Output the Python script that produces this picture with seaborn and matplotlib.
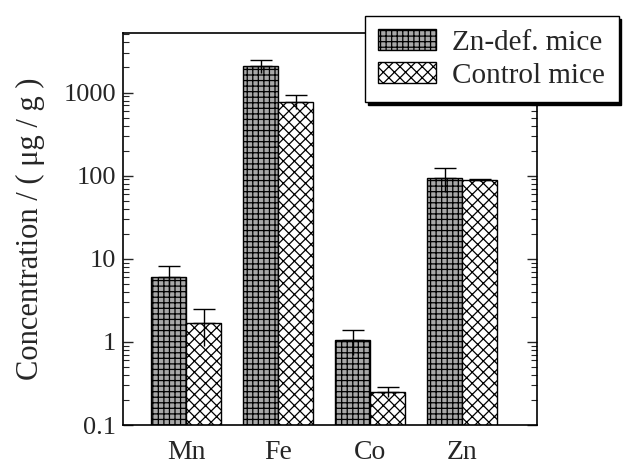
import numpy as np
import pandas as pd
import matplotlib
matplotlib.use("Agg")
import matplotlib.pyplot as plt
import seaborn as sns
from matplotlib.ticker import LogLocator, FixedLocator, FixedFormatter, NullFormatter
from matplotlib.patches import Patch

elements = ["Mn", "Fe", "Co", "Zn"]
groups = ["Zn-def. mice", "Control mice"]
zn_def = [6.0, 2070.0, 1.05, 94.0]
zn_def_err = [2.1, 360.0, 0.35, 30.0]
control = [1.68, 775.0, 0.25, 88.0]
control_err = [0.8, 150.0, 0.034, 2.5]

sns.set_theme(style="white")
plt.rcParams["font.family"] = ["Liberation Serif", "DejaVu Serif"]
plt.rcParams["hatch.linewidth"] = 0.9

df = pd.DataFrame({
    "Element": elements * 2,
    "Group": [groups[0]] * 4 + [groups[1]] * 4,
    "Value": zn_def + control,
})

fig = plt.figure(figsize=(6.24, 4.67), dpi=100)
ax = fig.add_axes([123 / 624, 1 - 425 / 467, 414 / 624, 392 / 467])
ax.set_yscale("log")

sns.barplot(data=df, x="Element", y="Value", hue="Group", order=elements,
            hue_order=groups, width=0.76, errorbar=None, ax=ax,
            palette=["#a8a8a8", "white"], edgecolor="black", linewidth=1.0,
            saturation=1, legend=False)

hatches = ["+++", "xxx"]
for bars, h in zip(ax.containers, hatches):
    for b in bars:
        b.set_hatch(h)

for bars, vals, errs in zip(ax.containers, [zn_def, control], [zn_def_err, control_err]):
    xs = [b.get_x() + b.get_width() / 2 for b in bars]
    ax.errorbar(xs, vals, yerr=[np.zeros(4), errs], fmt="none", ecolor="black",
                elinewidth=1.0, capsize=8, capthick=1.0, zorder=5)
    ax.errorbar(xs, vals, yerr=[errs, np.zeros(4)], fmt="none", ecolor="black",
                elinewidth=1.0, capsize=0, zorder=5)

ax.set_ylim(0.1, 5200)
ax.set_xlim(-0.685, 3.815)
ax.yaxis.set_major_locator(FixedLocator([0.1, 1, 10, 100, 1000]))
ax.yaxis.set_major_formatter(FixedFormatter(["0.1", "1", "10", "100", "1000"]))
ax.yaxis.set_minor_locator(LogLocator(base=10, subs=np.arange(2, 10)))
ax.yaxis.set_minor_formatter(NullFormatter())
ax.tick_params(axis="y", which="major", direction="in", length=7, width=1.0,
               left=True, right=True, labelsize=19, pad=5)
ax.tick_params(axis="y", which="minor", direction="in", length=4, width=0.8,
               left=True, right=True)
ax.tick_params(axis="x", bottom=False, labelsize=20, pad=5)
for s in ax.spines.values():
    s.set_color("black")
    s.set_linewidth(1.2)
ax.set_xlabel("")
ax.set_ylabel("Concentration / ( μg / g )", fontsize=22, labelpad=13)

handles = [Patch(facecolor="#a8a8a8", edgecolor="black", hatch="+++"),
           Patch(facecolor="white", edgecolor="black", hatch="xxx")]
leg = fig.legend(handles, groups, loc="upper left",
                 bbox_to_anchor=(365 / 624, 1 - 16 / 467), borderaxespad=0,
                 fontsize=21, frameon=True, fancybox=False,
                 shadow={"color": "black", "alpha": 1.0}, edgecolor="black",
                 handlelength=2.0, handleheight=0.75, borderpad=0.45,
                 labelspacing=0.2, handletextpad=0.55)
leg.get_frame().set_linewidth(1.0)
leg.set_zorder(10)

fig.savefig("out.png", dpi=100)
